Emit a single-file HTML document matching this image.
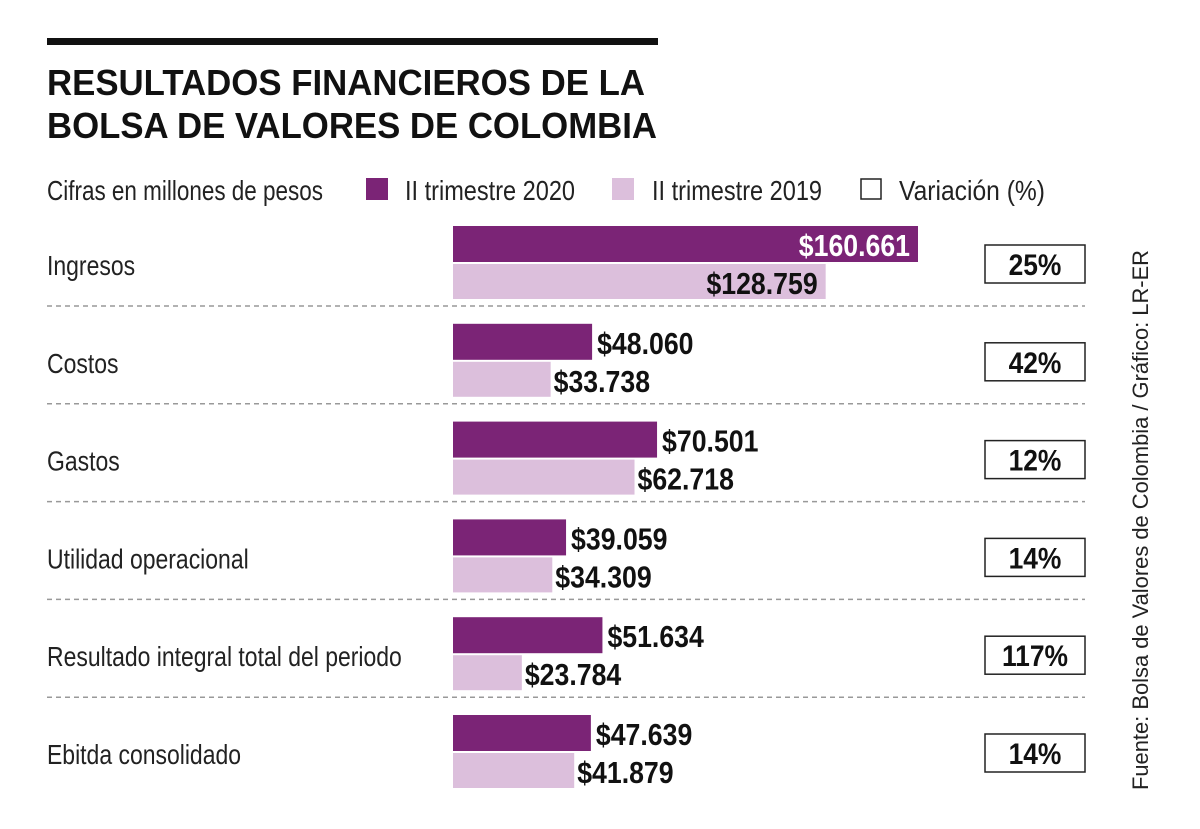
<!DOCTYPE html>
<html><head><meta charset="utf-8"><style>
html,body{margin:0;padding:0;background:#fff;}
svg{display:block;font-family:"Liberation Sans Narrow","Liberation Sans",sans-serif;}
</style></head><body>
<svg id="chart" width="1200" height="829" viewBox="0 0 1200 829">
<rect x="47" y="38" width="611" height="7" fill="#111"/>
<text x="47" y="95" font-size="36" font-weight="bold" fill="#111" textLength="598" lengthAdjust="spacingAndGlyphs">RESULTADOS FINANCIEROS DE LA</text>
<text x="47" y="138" font-size="36" font-weight="bold" fill="#111" textLength="610" lengthAdjust="spacingAndGlyphs">BOLSA DE VALORES DE COLOMBIA</text>
<g>
<text x="47" y="200" font-size="28" fill="#222" textLength="276" lengthAdjust="spacingAndGlyphs">Cifras en millones de pesos</text>
<rect x="366" y="178" width="22" height="22" fill="#7b2476"/>
<text x="405" y="200" font-size="28" fill="#222" textLength="170" lengthAdjust="spacingAndGlyphs">II trimestre 2020</text>
<rect x="612" y="178" width="22" height="22" fill="#dcbfdc"/>
<text x="652" y="200" font-size="28" fill="#222" textLength="170" lengthAdjust="spacingAndGlyphs">II trimestre 2019</text>
<rect x="861" y="179" width="20" height="20" fill="#fff" stroke="#222" stroke-width="1.5"/>
<text x="899" y="200" font-size="28" fill="#222" textLength="146" lengthAdjust="spacingAndGlyphs">Variación (%)</text>
</g>
<g id="rows"></g>
<text transform="translate(1148,790) rotate(-90)" font-size="22" fill="#222" textLength="540" lengthAdjust="spacingAndGlyphs">Fuente: Bolsa de Valores de Colombia / Gráfico: LR-ER</text>
</svg>
<script>
const categories = ["Ingresos","Costos","Gastos","Utilidad operacional","Resultado integral total del periodo","Ebitda consolidado"];
const values2020 = [160661,48060,70501,39059,51634,47639];
const values2019 = [128759,33738,62718,34309,23784,41879];
const variation = ["25%","42%","12%","14%","117%","14%"];
const NS="http://www.w3.org/2000/svg";
const g=document.getElementById('rows');
const x0=453, scale=465/160661;
function xs(v){return v*scale;}
function fmt(v){return "$"+v.toString().replace(/\B(?=(\d{3})+(?!\d))/g,".");}
function mk(t,a){const e=document.createElementNS(NS,t);for(const k in a)e.setAttribute(k,a[k]);return e;}
function txt(s,a){const e=mk('text',a);e.textContent=s;return e;}
function squeeze(e,r){const w=e.getComputedTextLength();e.setAttribute('textLength',(w*r).toFixed(1));e.setAttribute('lengthAdjust','spacingAndGlyphs');}
categories.forEach((c,i)=>{
  const top=226+i*97.8;
  const lab=txt(c,{x:47,y:top+49,'font-size':28,fill:'#222'});
  
  
  g.appendChild(lab);
  squeeze(lab,0.82);
  const w1=xs(values2020[i]), w2=xs(values2019[i]);
  const b1=mk('rect',{x:x0,y:top,width:w1,height:36,fill:'#7b2476'});
  
  
  g.appendChild(b1);
  const b2=mk('rect',{x:x0,y:top+38,width:w2,height:35,fill:'#dcbfdc'});
  
  
  g.appendChild(b2);
  let v1;
  if(w1>300){v1=txt(fmt(values2020[i]),{x:x0+w1-8,y:top+30,'font-size':31,'font-weight':'bold',fill:'#fff','text-anchor':'end'});}
  else{v1=txt(fmt(values2020[i]),{x:x0+w1+5,y:top+30,'font-size':31,'font-weight':'bold',fill:'#111'});}
  
  
  g.appendChild(v1);
  squeeze(v1,0.86);
  let v2;
  if(w2>300){v2=txt(fmt(values2019[i]),{x:x0+w2-8,y:top+68,'font-size':31,'font-weight':'bold',fill:'#111','text-anchor':'end'});}
  else{v2=txt(fmt(values2019[i]),{x:x0+w2+3,y:top+68,'font-size':31,'font-weight':'bold',fill:'#111'});}
  
  
  g.appendChild(v2);
  squeeze(v2,0.86);
  const box=mk('rect',{x:985,y:top+19,width:100,height:38,fill:'#fff',stroke:'#222','stroke-width':1.5});
  
  
  g.appendChild(box);
  const vt=txt(variation[i],{x:1035,y:top+49,'font-size':30,'font-weight':'bold',fill:'#111','text-anchor':'middle'});
  
  
  g.appendChild(vt);
  squeeze(vt,0.88);
  if(i<categories.length-1){
    const ln=mk('line',{x1:47,x2:1085,y1:top+80,y2:top+80,stroke:'#999','stroke-width':1.5,'stroke-dasharray':'5,4'});
    
    
    g.appendChild(ln);
  }
});
</script>
</body></html>
